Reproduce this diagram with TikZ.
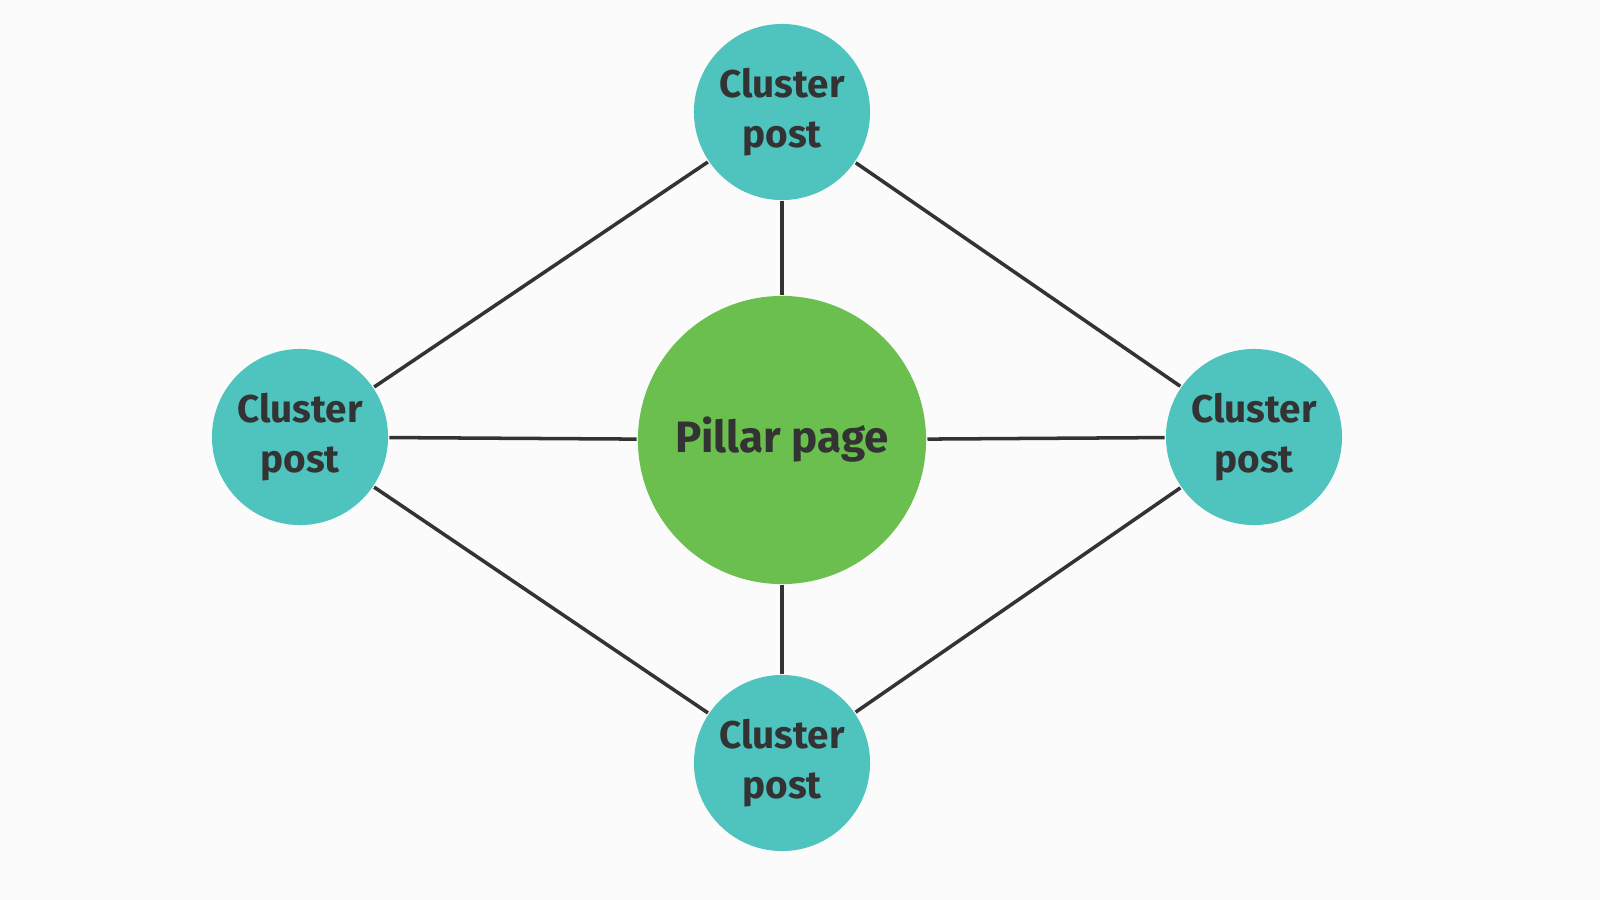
\documentclass[tikz,border=0pt]{standalone}
\usepackage{fontspec}
\setmainfont{Fira Sans}
\definecolor{teal}{HTML}{4FC3BE}
\definecolor{leaf}{HTML}{6BBF4F}
\definecolor{ink}{HTML}{333333}
\begin{document}
\begin{tikzpicture}[x=0.01cm, y=-0.01cm, thick]
    \tikzset{
      post/.style={circle, fill=teal, minimum size=1.76cm, inner sep=0pt, align=center,
        text=ink, font=\bfseries\fontsize{11}{14}\selectfont},
      pillar/.style={circle, fill=leaf, minimum size=2.88cm, inner sep=0pt,
        text=ink, font=\bfseries\fontsize{12.5}{14}\selectfont},
      link/.style={draw=ink, line width=1pt}
    }
    \fill[gray!3] (0,0) rectangle (1600,900);
    % Nós
    \node[pillar] (pillar) at (782,440) {Pillar page};
    \node[post] (top) at (782,112) {Cluster\\post};
    \node[post] (left) at (300,437) {Cluster\\post};
    \node[post] (right) at (1254,437) {Cluster\\post};
    \node[post] (bottom) at (782,763) {Cluster\\post};

    % Ligações
    \draw[link] (top) -- (pillar);
    \draw[link] (bottom) -- (pillar);
    \draw[link] (left) -- (pillar);
    \draw[link] (right) -- (pillar);
    \draw[link] (top) -- (left);
    \draw[link] (top) -- (right);
    \draw[link] (bottom) -- (left);
    \draw[link] (bottom) -- (right);
\end{tikzpicture}
\end{document}
